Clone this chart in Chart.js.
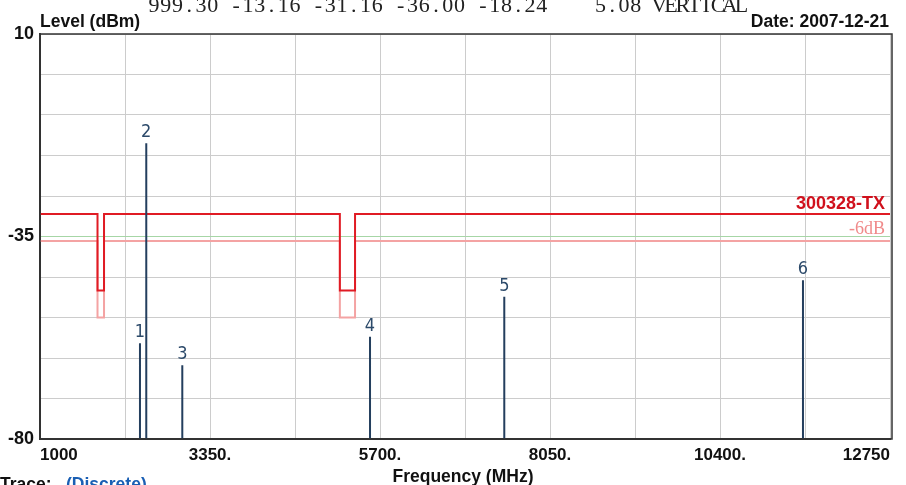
<!DOCTYPE html>
<html>
<head>
<meta charset="utf-8">
<script src="https://cdn.jsdelivr.net/npm/chart.js@4.4.1/dist/chart.umd.min.js"></script>
<style>
  html, body { margin: 0; padding: 0; background: #fff; }
  #wrap { width: 906px; height: 485px; overflow: hidden; }
</style>
</head>
<body>
<div id="wrap"><canvas id="spectrum" width="906" height="485"></canvas></div>
<script>
// 축 눈금
const freqTicks = [1000, 2175, 3350, 4525, 5700, 6875, 8050, 9225, 10400, 11575, 12750];
const freqTickLabels = ['1000', '', '3350.', '', '5700.', '', '8050.', '', '10400.', '', '12750'];
const levelTicks = [10, 1, -8, -17, -26, -35, -44, -53, -62, -71, -80];
const levelTickLabels = ['10', '', '', '', '', '-35', '', '', '', '', '-80'];

// 리밋 라인 (300328-TX) 과 -6dB 라인
const limitFreq = [1000, 1795, 1795, 1885, 1885, 5145, 5145, 5355, 5355, 12750];
const limitLevel = [-30, -30, -47, -47, -30, -30, -47, -47, -30, -30];
const marginLevel = [-36, -36, -53, -53, -36, -36, -53, -53, -36, -36];

// 측정 피크
const markerNum = ['1', '2', '3', '4', '5', '6'];
const markerFreq = [2382, 2469, 2967, 5562, 7418, 11547];
const markerLevel = [-58.7, -14.3, -63.6, -57.3, -48.4, -44.7];

const headerText = '999.30 -13.16 -31.16 -36.00 -18.24    5.08 VERTICAL';

const sans = '"Liberation Sans", Arial, sans-serif';
const narrow = '"DejaVu Sans Condensed", sans-serif';

const spikePts = [];
markerFreq.forEach((f, i) => {
  spikePts.push({ x: f, y: -80 }, { x: f, y: markerLevel[i] }, { x: f, y: null });
});

const toPts = (xs, ys) => xs.map((x, i) => ({ x, y: ys[i] }));

const textPlugin = {
  id: 'texts',
  afterDraw(chart) {
    const c = chart.ctx;
    const area = chart.chartArea;
    const xs = chart.scales.x;
    const ys = chart.scales.y;
    c.save();

    // 프레임
    c.strokeStyle = '#333';
    c.lineWidth = 1.5;
    c.strokeRect(area.left, area.top, area.right - area.left + 2, area.bottom - area.top);

    // 마커 번호
    c.fillStyle = '#2c4a6a';
    c.font = '18px ' + narrow;
    c.textAlign = 'center';
    c.textBaseline = 'alphabetic';
    markerNum.forEach((n, i) => {
      c.fillText(n, xs.getPixelForValue(markerFreq[i]), ys.getPixelForValue(markerLevel[i]) - 6);
    });

    // 리밋 라벨
    c.textAlign = 'right';
    c.fillStyle = '#d0101c';
    c.font = 'bold 18px ' + sans;
    c.fillText('300328-TX', area.right - 5, ys.getPixelForValue(limitLevel[0]) - 5);
    c.fillStyle = '#f08a8a';
    c.font = '18px "Liberation Serif", serif';
    c.fillText('-6dB', area.right - 5, ys.getPixelForValue(marginLevel[0]) - 7);

    // 상단 텍스트
    c.fillStyle = '#222';
    c.font = '22px "Liberation Serif", serif';
    c.textAlign = 'center';
    for (let i = 0; i < headerText.length; i++) {
      c.fillText(headerText[i], 154 + i * 11.75, 12);
    }

    c.fillStyle = '#111';
    c.font = 'bold 17.5px ' + sans;
    c.textAlign = 'left';
    c.fillText('Level (dBm)', 40, 27);
    c.textAlign = 'right';
    c.fillText('Date: 2007-12-21', 889, 27);

    c.textAlign = 'center';
    c.fillText('Frequency (MHz)', 463, 482);

    c.textAlign = 'left';
    c.fillText('Trace:', 0, 490);
    c.fillStyle = '#1a5fb4';
    c.fillText('(Discrete)', 66, 490);

    c.restore();
  },
};

new Chart(document.getElementById('spectrum'), {
  type: 'line',
  data: {
    datasets: [
      {
        data: spikePts,
        borderColor: '#243f5e',
        borderWidth: 2,
        pointRadius: 0,
        spanGaps: false,
      },
      {
        data: toPts(limitFreq, limitLevel),
        borderColor: '#e01b24',
        borderWidth: 2,
        pointRadius: 0,
      },
      {
        data: toPts(limitFreq, marginLevel),
        borderColor: '#f4a3a3',
        borderWidth: 2,
        pointRadius: 0,
      },
    ],
  },
  options: {
    responsive: false,
    animation: false,
    layout: { padding: { top: 34, right: 16, left: 0, bottom: 0 } },
    plugins: { legend: { display: false }, tooltip: { enabled: false } },
    scales: {
      x: {
        type: 'linear',
        min: 1000,
        max: 12750,
        afterBuildTicks: (s) => { s.ticks = freqTicks.map((v) => ({ value: v })); },
        afterFit: (s) => { s.height = 46; },
        grid: { color: '#cccccc', lineWidth: 1, drawTicks: false },
        border: { display: true, color: '#333', width: 2 },
        ticks: {
          autoSkip: false,
          maxRotation: 0,
          align: 'inner',
          padding: 6,
          color: '#111',
          font: { family: sans, size: 17, weight: 'bold' },
          callback: (v, i) => freqTickLabels[i],
        },
      },
      y: {
        min: -80,
        max: 10,
        afterBuildTicks: (s) => { s.ticks = levelTicks.map((v) => ({ value: v })); },
        afterFit: (s) => { s.width = 40; },
        grid: {
          color: (ctx) => (ctx.tick && ctx.tick.value === -35 ? '#a6d6a6' : '#cccccc'),
          lineWidth: 1,
          drawTicks: false,
        },
        border: { display: true, color: '#333', width: 2 },
        ticks: {
          padding: 6,
          color: '#111',
          font: { family: sans, size: 18, weight: 'bold' },
          callback: (v, i) => levelTickLabels[i],
        },
      },
    },
  },
  plugins: [textPlugin],
});
</script>
</body>
</html>
